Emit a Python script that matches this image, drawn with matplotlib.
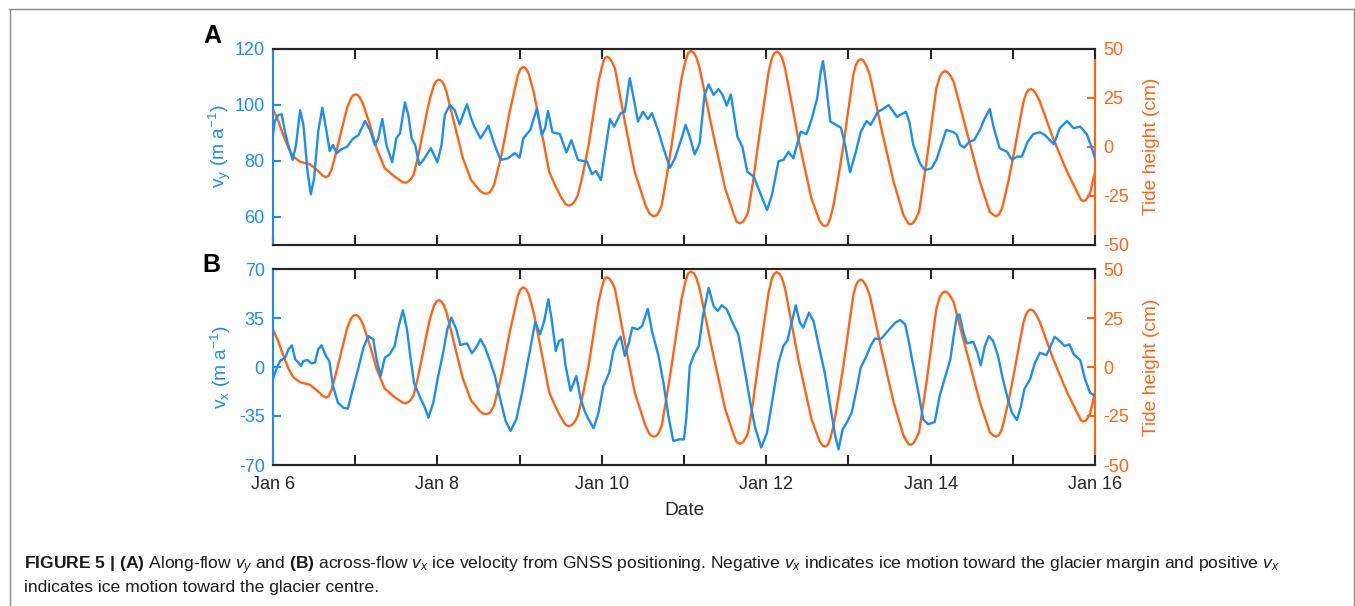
import matplotlib
matplotlib.use("Agg")
import matplotlib.pyplot as plt
from matplotlib import font_manager
from matplotlib.lines import Line2D

# ---------------------------------------------------------------- data
# time in days of January
tide_day = [6.00, 6.06, 6.125, 6.19, 6.247, 6.33, 6.45, 6.55, 6.61, 6.645, 6.675, 6.71, 6.75, 6.79,
            6.85, 6.90, 6.95, 6.98, 7.006, 7.035, 7.07, 7.10, 7.18, 7.26, 7.36, 7.48, 7.55, 7.58,
            7.61, 7.64, 7.675, 7.71, 7.76, 7.81, 7.86, 7.91, 7.96, 7.99, 8.02, 8.05, 8.08, 8.11,
            8.21, 8.31, 8.41, 8.52, 8.56, 8.60, 8.64, 8.69, 8.78, 8.88, 8.98, 9.01, 9.045, 9.08,
            9.11, 9.17, 9.29, 9.36, 9.43, 9.50, 9.56, 9.60, 9.64, 9.68, 9.71, 9.77, 9.84, 9.90,
            9.96, 10.00, 10.03, 10.06, 10.09, 10.12, 10.16, 10.28, 10.40, 10.53, 10.58, 10.61,
            10.64, 10.67, 10.70, 10.73, 10.79, 10.85, 10.91, 10.97, 11.02, 11.05, 11.085, 11.12,
            11.15, 11.19, 11.34, 11.50, 11.60, 11.64, 11.68, 11.72, 11.76, 11.78, 11.84, 11.90,
            11.97, 12.03, 12.07, 12.10, 12.13, 12.16, 12.19, 12.23, 12.39, 12.55, 12.65, 12.69,
            12.72, 12.75, 12.78, 12.82, 12.88, 12.94, 13.00, 13.06, 13.09, 13.12, 13.15, 13.18,
            13.22, 13.26, 13.40, 13.55, 13.67, 13.73, 13.76, 13.79, 13.82, 13.86, 13.95, 14.01,
            14.07, 14.11, 14.14, 14.175, 14.21, 14.25, 14.28, 14.44, 14.60, 14.72, 14.77, 14.80,
            14.83, 14.86, 14.88, 14.95, 15.01, 15.07, 15.13, 15.16, 15.19, 15.22, 15.25, 15.28,
            15.33, 15.49, 15.66, 15.78, 15.83, 15.86, 15.89, 15.94, 16.00]
tide_cm = [19.1, 13.5, 5.9, -1.0, -5.2, -7.8, -9.1, -12.5, -15.0, -15.6, -15.0, -12.0, -6.0, 0.8,
           11.0, 19.5, 24.8, 26.2, 26.6, 26.1, 24.0, 21.2, 11.0, -0.9, -11.1, -15.4, -17.4, -18.2,
           -18.5, -18.1, -16.8, -14.5, -6.0, 4.2, 15.0, 24.6, 31.5, 33.5, 34.1, 33.4, 31.5, 28.0,
           11.0, -6.0, -17.1, -22.7, -23.8, -24.1, -23.3, -19.6, -4.3, 17.8, 36.5, 39.5, 40.7, 39.6,
           37.2, 28.0, 2.5, -12.9, -19.6, -25.5, -29.5, -30.2, -29.5, -27.3, -24.7, -14.0, 0.8, 17.0,
           33.1, 40.5, 44.8, 45.8, 45.2, 43.5, 39.9, 12.7, -12.9, -29.8, -34.2, -35.2,
           -35.5, -35.0, -33.0, -29.8, -15.0, 0.8, 18.0, 34.8, 44.0, 47.8, 48.7, 47.8,
           45.5, 39.9, 9.3, -21.3, -34.0, -38.3, -39.2, -38.3, -35.5, -33.3, -18.0, 0.8,
           21.0, 38.2, 45.2, 47.7, 48.4, 47.6, 45.6, 39.9, 4.2, -26.4, -38.0, -40.2,
           -40.6, -39.8, -36.5, -29.8, -15.0, 0.8, 19.0, 36.5, 41.5, 43.8, 44.6, 43.9,
           41.0, 36.5, 9.3, -18.0, -35.0, -39.3, -39.7, -38.9, -36.8, -33.3, -7.8, 11.0,
           29.7, 35.5, 37.6, 38.5, 37.8, 35.5, 33.1, 7.6, -18.0, -33.3, -35.1, -35.5,
           -34.8, -32.5, -29.8, -17.0, -4.3, 9.5, 22.9, 26.8, 28.8, 29.3, 28.7, 27.0,
           22.9, 4.2, -12.9, -23.1, -27.2, -27.8, -27.3, -23.9, -12.9]

vy_day = [6.00, 6.02, 6.065, 6.105, 6.146, 6.186, 6.24, 6.28, 6.33, 6.37, 6.42, 6.46, 6.50, 6.55,
          6.60, 6.645, 6.69, 6.73, 6.775, 6.835, 6.90, 6.97, 7.04, 7.12, 7.18, 7.24, 7.28, 7.33,
          7.38, 7.45, 7.50, 7.545, 7.605, 7.646, 7.686, 7.73, 7.78, 7.83, 7.92, 8.00, 8.05, 8.09,
          8.15, 8.21, 8.27, 8.36, 8.41, 8.45, 8.525, 8.62, 8.67, 8.72, 8.77, 8.86, 8.94, 9.00,
          9.045, 9.13, 9.21, 9.27, 9.31, 9.345, 9.40, 9.49, 9.57, 9.63, 9.71, 9.82, 9.88, 9.93,
          9.99, 10.04, 10.10, 10.15, 10.23, 10.28, 10.34, 10.38, 10.44, 10.50, 10.56, 10.61,
          10.69, 10.75, 10.83, 10.89, 10.97, 11.02, 11.07, 11.13, 11.19, 11.25, 11.30, 11.36,
          11.42, 11.47, 11.52, 11.57, 11.65, 11.71, 11.77, 11.85, 11.92, 12.01, 12.07, 12.15,
          12.21, 12.27, 12.33, 12.42, 12.49, 12.55, 12.62, 12.665, 12.69, 12.73, 12.78, 12.84,
          12.91, 12.96, 13.02, 13.08, 13.15, 13.22, 13.27, 13.36, 13.42, 13.49, 13.59, 13.70,
          13.74, 13.79, 13.87, 13.93, 14.01, 14.07, 14.13, 14.19, 14.28, 14.32, 14.36, 14.41,
          14.47, 14.53, 14.60, 14.66, 14.72, 14.77, 14.84, 14.93, 14.99, 15.05, 15.11, 15.18,
          15.25, 15.33, 15.39, 15.45, 15.50, 15.57, 15.66, 15.74, 15.82, 15.90, 15.96, 16.00]
vy_ma = [89.1, 93.9, 96.25, 96.5, 90.3, 85.5, 80.2, 85.5, 98.0, 92.7, 76.0, 67.9, 73.6, 90.3,
         98.9, 91.5, 83.4, 85.5, 82.6, 84.1, 84.9, 87.7, 89.1, 94.1, 90.9, 85.5, 87.9, 94.8,
         85.5, 79.4, 87.9, 89.7, 100.8, 96.25, 87.9, 85.5, 78.4, 80.2, 84.4, 79.4, 85.5, 96.25,
         99.8, 98.0, 92.9, 100.1, 95.1, 92.1, 87.9, 92.4, 87.9, 83.75, 80.2, 80.8, 82.6, 81.0,
         87.9, 90.9, 98.6, 89.1, 91.5, 97.7, 90.1, 89.4, 82.9, 87.3, 80.2, 79.6, 75.1, 76.25,
         73.0, 83.1, 94.8, 92.1, 96.9, 97.4, 109.4, 103.4, 93.9, 97.4, 94.8, 96.9,
         90.3, 84.4, 77.4, 80.8, 87.9, 92.7, 88.5, 82.2, 86.1, 103.4, 107.2, 103.4,
         105.5, 103.4, 99.6, 103.6, 88.5, 84.9, 76.0, 74.2, 68.9, 62.3, 67.7, 79.8,
         80.2, 83.1, 80.8, 90.3, 89.4, 94.5, 102.2, 112.0, 115.5, 107.0, 93.9, 92.9,
         91.7, 85.5, 75.8, 82.0, 90.1, 94.1, 92.7, 97.4, 98.4, 99.8, 95.6, 97.4,
         93.9, 85.5, 79.0, 76.6, 77.2, 80.2, 85.5, 90.9, 90.1, 89.1, 85.5, 84.6,
         86.7, 87.3, 90.9, 95.1, 98.4, 91.5, 84.4, 83.1, 80.2, 81.4, 81.4, 86.7,
         89.4, 90.1, 89.1, 87.3, 85.8, 91.5, 94.1, 91.5, 92.1, 89.4, 84.6, 80.8]

vx_day = [6.00, 6.04, 6.085, 6.146, 6.19, 6.23, 6.27, 6.31, 6.34, 6.37, 6.42, 6.47, 6.51, 6.55,
          6.59, 6.645, 6.685, 6.73, 6.79, 6.855, 6.91, 6.97, 7.04, 7.10, 7.16, 7.22, 7.26, 7.31,
          7.36, 7.42, 7.48, 7.52, 7.58, 7.63, 7.67, 7.715, 7.79, 7.84, 7.89, 7.95, 8.01, 8.07,
          8.12, 8.17, 8.23, 8.28, 8.36, 8.42, 8.47, 8.525, 8.58, 8.64, 8.70, 8.76, 8.83, 8.89,
          8.96, 9.03, 9.09, 9.15, 9.19, 9.25, 9.30, 9.35, 9.39, 9.44, 9.48, 9.52, 9.56, 9.62,
          9.69, 9.74, 9.79, 9.84, 9.90, 9.96, 10.02, 10.09, 10.14, 10.19, 10.23, 10.28, 10.33,
          10.37, 10.44, 10.49, 10.56, 10.61, 10.69, 10.75, 10.81, 10.87, 10.94, 11.00, 11.03,
          11.07, 11.125, 11.18, 11.23, 11.30, 11.36, 11.41, 11.46, 11.52, 11.59, 11.66, 11.73,
          11.80, 11.86, 11.94, 12.01, 12.09, 12.15, 12.21, 12.26, 12.31, 12.36, 12.41, 12.45,
          12.52, 12.575, 12.64, 12.715, 12.78, 12.84, 12.88, 12.93, 12.98, 13.04, 13.10, 13.15,
          13.21, 13.27, 13.32, 13.40, 13.49, 13.57, 13.63, 13.69, 13.73, 13.79, 13.86, 13.91,
          13.97, 14.05, 14.11, 14.175, 14.24, 14.28, 14.32, 14.35, 14.40, 14.44, 14.52, 14.57,
          14.61, 14.66, 14.71, 14.76, 14.82, 14.88, 14.94, 14.99, 15.05, 15.10, 15.14, 15.21,
          15.27, 15.33, 15.41, 15.46, 15.51, 15.57, 15.63, 15.69, 15.74, 15.82, 15.88, 15.94,
          16.00]
vx_ma = [-8.8, -1.7, 4.3, 6.6, 12.6, 15.5, 5.5, 3.1, 0.7, 4.3, 5.0, 2.6, 3.1, 12.6,
         15.5, 7.9, 4.3, -13.6, -25.5, -29.1, -29.8, -15.9, -0.5, 13.8, 22.1, 19.8, 5.5, -6.4,
         6.6, 9.1, 15.0, 26.9, 40.5, 26.9, 7.9, -11.2, -21.9, -27.9, -36.2, -25.5, -6.4, 10.2,
         26.9, 35.2, 26.9, 15.7, 16.9, 9.8, 13.8, 19.8, 13.8, 4.3, -6.4, -21.9, -38.6, -45.7,
         -37.4, -18.4, 0.7, 19.8, 32.1, 23.4, 32.9, 48.4, 34.1, 11.4, 18.6, 19.8, 0.7, -17.1,
         -6.4, -21.9, -31.4, -37.4, -43.8, -32.6, -13.6, -4.1, 11.4, 18.6, 21.6, 7.9, 17.4,
         28.1, 26.9, 29.3, 41.6, 25.7, 7.9, -11.2, -35.0, -52.9, -51.7, -51.7, -35.0,
         0.7, 9.1, 15.0, 36.4, 56.6, 43.6, 40.0, 44.1, 41.2, 31.7, 23.4, 0.7,
         -23.1, -42.1, -57.6, -46.9, -18.4, 3.1, 15.0, 19.3, 31.7, 44.1, 31.7, 28.1,
         38.8, 32.9, 15.0, -5.0, -27.9, -49.3, -58.8, -44.5, -39.8, -32.6, -15.9, -0.5,
         6.6, 15.0, 20.2, 20.2, 26.4, 31.7, 33.6, 30.5, 19.8, 0.7, -20.7, -37.4,
         -40.9, -39.3, -20.7, -7.6, 5.5, 22.1, 36.4, 37.6, 24.5, 16.9, 17.9, 10.2,
         1.2, 15.0, 22.1, 18.6, 7.9, -8.8, -23.1, -32.6, -37.9, -27.9, -15.9, -8.8,
         3.1, 10.2, 8.4, 15.0, 21.6, 18.6, 15.0, 16.2, 9.1, 5.0, -8.8, -18.4,
         -20.7]

day_ticks = [6, 7, 8, 9, 10, 11, 12, 13, 14, 15, 16]
day_labels = ["Jan 6", "", "Jan 8", "", "Jan 10", "", "Jan 12", "", "Jan 14", "", "Jan 16"]
vy_ticks = [60, 80, 100, 120]
vx_ticks = [-70, -35, 0, 35, 70]
tide_ticks = [-50, -25, 0, 25, 50]

# ---------------------------------------------------------------- style
def first_font(names):
    for n in names:
        try:
            font_manager.findfont(n, fallback_to_default=False)
            return n
        except Exception:
            continue
    return "DejaVu Sans"

main_font = first_font(["Liberation Sans", "Arial", "DejaVu Sans"])

plt.rcParams["font.family"] = [main_font, "DejaVu Sans"]
plt.rcParams["axes.unicode_minus"] = False
plt.rcParams["mathtext.fontset"] = "custom"
plt.rcParams["mathtext.rm"] = main_font
plt.rcParams["mathtext.it"] = main_font + ":italic"
plt.rcParams["mathtext.bf"] = main_font + ":bold"

BLUE = "#1b8ef0"
ORANGE = "#ff6414"
DARK = "#262626"

W, H = 1355, 606
fig = plt.figure(figsize=(W / 100, H / 100), dpi=100)


def fx(px):
    return px / W


def fy(py):
    return 1 - py / H


ax_left, ax_right = 273, 1095
TICK_FS = 13
LABEL_FS = 13.8


def make_panel(top, bottom, vel_day, vel, vlim, vticks, vlabel, show_dates):
    ax = fig.add_axes([fx(ax_left), fy(bottom), fx(ax_right - ax_left), (bottom - top) / H])
    ax2 = ax.twinx()
    ax.set_zorder(ax2.get_zorder() + 1)
    ax.patch.set_visible(False)

    ax2.plot(tide_day, tide_cm, color=ORANGE, lw=1.7, solid_joinstyle="round")
    ax.plot(vel_day, vel, color=BLUE, lw=1.7, solid_joinstyle="round")

    ax.set_xlim(6, 16)
    ax.set_ylim(*vlim)
    ax2.set_ylim(-50, 50)
    ax.set_yticks(vticks)
    ax2.set_yticks(tide_ticks)
    ax.set_xticks(day_ticks)
    if show_dates:
        ax.set_xticklabels(day_labels)
    else:
        ax.set_xticklabels([])

    for a in (ax, ax2):
        for s in a.spines.values():
            s.set_linewidth(1.5)
        a.spines["top"].set_color(DARK)
        a.spines["bottom"].set_color(DARK)
    ax.spines["left"].set_color(BLUE)
    ax.spines["right"].set_visible(False)
    ax2.spines["left"].set_visible(False)
    ax2.spines["right"].set_color(ORANGE)

    ax.tick_params(axis="x", direction="in", top=True, bottom=True, length=7, width=1.5,
                   color=DARK, labelcolor=DARK, labelsize=TICK_FS, pad=8)
    ax.tick_params(axis="y", direction="in", length=6, width=1.5, color=BLUE,
                   labelcolor=BLUE, labelsize=TICK_FS, pad=6)
    ax2.tick_params(axis="y", direction="in", length=6, width=1.5, color=ORANGE,
                    labelcolor=ORANGE, labelsize=TICK_FS, pad=6)

    ax.set_ylabel(vlabel, color=BLUE, fontsize=LABEL_FS)
    ax.yaxis.set_label_coords(-0.049, 0.5)
    ax2.set_ylabel("Tide height (cm)", color=ORANGE, fontsize=LABEL_FS, rotation=90)
    ax2.yaxis.set_label_coords(1.058, 0.5)
    return ax, ax2


axA, axA2 = make_panel(48.5, 244.5, vy_day, vy_ma, (50, 120), vy_ticks,
                       r"$\mathregular{v_y\ (m\ a^{-1})}$", False)
axB, axB2 = make_panel(269, 465, vx_day, vx_ma, (-70, 70), vx_ticks,
                       r"$\mathregular{v_x\ (m\ a^{-1})}$", True)
axB.set_xlabel("Date", fontsize=LABEL_FS, color=DARK)
axB.xaxis.set_label_coords(0.5, -0.19)

fig.text(fx(203), fy(43), "A", fontsize=18, fontweight="bold", va="baseline", ha="left")
fig.text(fx(202), fy(272.5), "B", fontsize=18, fontweight="bold", va="baseline", ha="left")

# caption
cap1 = (r"$\mathbf{FIGURE\ 5\ |\ (A)}$ Along-flow $v_y$ and $\mathbf{(B)}$ across-flow $v_x$ "
        r"ice velocity from GNSS positioning. Negative $v_x$ indicates ice motion toward the "
        r"glacier margin and positive $v_x$")
cap2 = "indicates ice motion toward the glacier centre."
t1 = fig.text(fx(24), fy(569), cap1, fontsize=10.5, color="#1a1a1a", va="baseline", ha="left")
t2 = fig.text(fx(24), fy(592), cap2, fontsize=10.5, color="#1a1a1a", va="baseline", ha="left")

# scale the caption so the first line runs to the right edge of the text block
fig.canvas.draw()
w1 = t1.get_window_extent(fig.canvas.get_renderer()).width
fs = 10.5 * (1283 - 24) / w1
t1.set_fontsize(fs)
t2.set_fontsize(fs)

# frame around the figure panel
frame_kw = dict(color="#8c8c8c", lw=1.0, transform=fig.transFigure)
fig.add_artist(Line2D([fx(9), fx(1354)], [fy(8.5), fy(8.5)], **frame_kw))
fig.add_artist(Line2D([fx(9.5), fx(9.5)], [fy(8.5), 0], **frame_kw))
fig.add_artist(Line2D([fx(1354), fx(1354)], [fy(8.5), 0], **frame_kw))

fig.savefig("out.png", dpi=100)
